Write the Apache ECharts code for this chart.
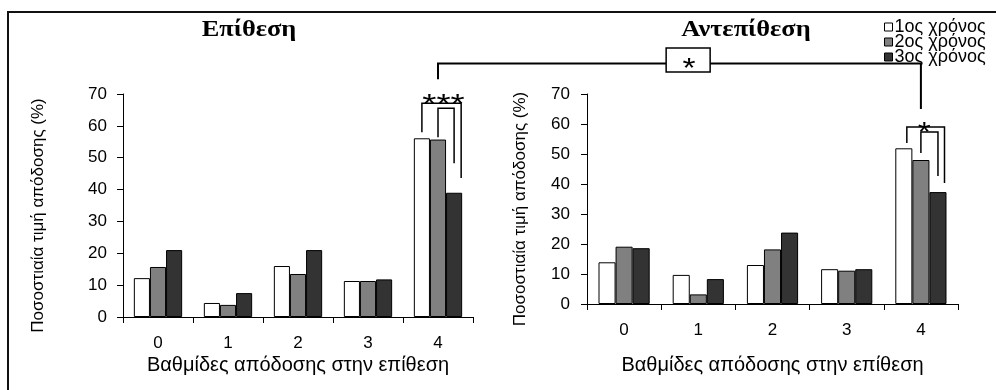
<!DOCTYPE html>
<html><head><meta charset="utf-8">
<script src="https://cdn.jsdelivr.net/npm/echarts@6/dist/echarts.min.js"></script>
<style>html,body{margin:0;padding:0;background:#fff}#c{width:996px;height:390px}</style>
</head><body><div id="c"></div>
<script>
// ---- data ----
const categories = ['0', '1', '2', '3', '4'];
const seriesNames = ['1ος χρόνος', '2ος χρόνος', '3ος χρόνος'];
const attackYear1 = [12.2, 4.4, 16.0, 11.3, 56.1];
const attackYear2 = [15.7, 3.8, 13.5, 11.3, 55.7];
const attackYear3 = [21.0, 7.5, 21.0, 11.8, 39.0];
const counterYear1 = [13.9, 9.7, 13.0, 11.6, 51.9];
const counterYear2 = [19.1, 3.2, 18.2, 11.1, 48.0];
const counterYear3 = [18.6, 8.3, 23.8, 11.6, 37.3];
const yTickValues = [0, 10, 20, 30, 40, 50, 60, 70];
const panelTitles = ['Επίθεση', 'Αντεπίθεση'];
const xAxisTitle = 'Βαθμίδες απόδοσης στην επίθεση';
const yAxisTitle = 'Ποσοστιαία τιμή απόδοσης (%)';
const sigLabels = ['***', '*', '*'];

// ---- style ----
const colors = ['#ffffff', '#808080', '#333333'];
const FONT = '"Liberation Sans", Arial, sans-serif';
const SERIF = '"Liberation Serif", "Times New Roman", serif';
const CAT_GAP = 0.31;

const chart = echarts.init(document.getElementById('c'), null, { renderer: 'canvas' });

function xAx(gi, nameGap, labelMargin) {
  return {
    type: 'category', gridIndex: gi, data: categories, boundaryGap: true,
    axisLine: { lineStyle: { color: '#000', width: 1 } },
    axisTick: { show: true, length: 6, interval: 0, lineStyle: { color: '#000' } },
    axisLabel: { color: '#000', fontSize: 17, fontFamily: FONT, margin: labelMargin, interval: 0 },
    splitLine: { show: false },
    name: xAxisTitle, nameLocation: 'middle', nameGap: nameGap, nameMoveOverlap: false,
    nameTextStyle: { color: '#000', fontSize: 20, fontFamily: FONT }
  };
}
function yAx(gi, nameGap, labelMargin) {
  return {
    type: 'value', gridIndex: gi,
    min: yTickValues[0], max: yTickValues[yTickValues.length - 1],
    interval: yTickValues[1] - yTickValues[0],
    axisLine: { show: true, lineStyle: { color: '#000', width: 1 } },
    axisTick: { show: true, length: 6, lineStyle: { color: '#000' } },
    axisLabel: { color: '#000', fontSize: 17, fontFamily: FONT, margin: labelMargin },
    splitLine: { show: false },
    name: yAxisTitle, nameLocation: 'middle', nameGap: nameGap, nameRotate: 90, nameMoveOverlap: false,
    nameTextStyle: { color: '#000', fontSize: 17, fontFamily: FONT, padding: [0, 20, 0, 0] }
  };
}

const panels = [
  [attackYear1, attackYear2, attackYear3],
  [counterYear1, counterYear2, counterYear3]
];
const series = [];
panels.forEach((p, gi) => p.forEach((d, i) => series.push({
  type: 'bar', name: seriesNames[i], xAxisIndex: gi, yAxisIndex: gi, data: d,
  barGap: '0%', barCategoryGap: (CAT_GAP * 100) + '%',
  itemStyle: { color: colors[i], borderColor: '#000', borderWidth: 1 },
  emphasis: { disabled: true }
})));

chart.setOption({
  animation: false,
  backgroundColor: '#fff',
  grid: [
    { left: 123, top: 94, width: 350, height: 223, outerBoundsMode: 'none' },
    { left: 587, top: 94, width: 371, height: 210, outerBoundsMode: 'none' }
  ],
  xAxis: [xAx(0, 38, 18), xAx(1, 51, 18)],
  yAxis: [yAx(0, 76, 16), yAx(1, 58, 17)],
  legend: {
    data: seriesNames, orient: 'vertical', left: 879, top: 13,
    icon: 'rect', itemWidth: 8, itemHeight: 8, itemGap: -3,
    textStyle: { fontSize: 18, fontFamily: FONT, color: '#000', padding: [0, 0, 0, -3] },
    itemStyle: { borderColor: '#000', borderWidth: 1 }
  },
  series: series
});

// ---- annotations (computed from axes) ----
function P(gi, c, v) { return chart.convertToPixel({ xAxisIndex: gi, yAxisIndex: gi }, [c, v]); }
function X(gi, c) { return P(gi, c, 0)[0]; }
function Y(gi, v) { return P(gi, 0, v)[1]; }
function bars(gi) {
  const cx = X(gi, 4);
  const catW = X(gi, 1) - X(gi, 0);
  const bw = catW * (1 - CAT_GAP) / 3;
  return { cx: cx, bw: bw, b0: cx - bw, b1: cx, b2: cx + bw, re: cx + 1.5 * bw };
}
const L = bars(0), R = bars(1);
const line = (pts, w) => ({ type: 'polyline', shape: { points: pts }, style: { stroke: '#000', lineWidth: w || 1.5, fill: null }, z: 10 });
const star = (txt, x, y, size, sx) => ({
  type: 'text', x: x, y: y, scaleX: sx || 1, z: 12,
  style: { text: txt, x: 0, y: 0, align: 'center', verticalAlign: 'middle', fill: '#000', font: size + 'px ' + FONT }
});

const topY = Y(0, 79.6);
const boxCx = L.cx + 0.518 * (R.cx - L.cx);

const graphic = [
  { type: 'rect', shape: { x: 8, y: 12, width: 1000, height: 400 }, style: { fill: null, stroke: '#111', lineWidth: 2 }, z: 1 },
  { type: 'text', x: 249, y: 30, scaleX: 1.1, z: 5,
    style: { text: panelTitles[0], x: 0, y: 0, align: 'center', verticalAlign: 'middle', fill: '#000', font: 'bold 24px ' + SERIF } },
  { type: 'text', x: 746, y: 30, scaleX: 1.1, z: 5,
    style: { text: panelTitles[1], x: 0, y: 0, align: 'center', verticalAlign: 'middle', fill: '#000', font: 'bold 24px ' + SERIF } },
  // left panel brackets
  line([[L.b0, Y(0, 58)], [L.b0, Y(0, 67.1)], [L.re - 1, Y(0, 67.1)], [L.re - 1, Y(0, 43.6)]]),
  line([[L.b1, Y(0, 56.4)], [L.b1, Y(0, 65.5)], [L.b2, Y(0, 65.5)], [L.b2, Y(0, 48.3)]]),
  star(sigLabels[0], L.cx + 5.5, Y(0, 68.8) + 7, 28, 1.3),
  // right panel brackets
  line([[R.b0 + 3, Y(1, 53.7)], [R.b0 + 3, Y(1, 59)], [R.re - 2, Y(1, 59)], [R.re - 2, Y(1, 40.3)]]),
  line([[R.b1, Y(1, 50.3)], [R.b1, Y(1, 57.3)], [R.b2, Y(1, 57.3)], [R.b2, Y(1, 42.7)]]),
  star(sigLabels[1], R.cx + 3.5, Y(1, 59.2) + 7, 28, 1.2),
  // cross-panel bracket
  line([[L.cx, Y(0, 74.6)], [L.cx, topY], [R.cx, topY], [R.cx, Y(1, 65)]], 2),
  { type: 'rect', shape: { x: boxCx - 22, y: topY - 15.3, width: 44, height: 24 }, style: { fill: '#fff', stroke: '#000', lineWidth: 1.5 }, z: 11 },
  star(sigLabels[2], boxCx + 1, topY - 1.3 + 7, 28, 1.2)
];
chart.setOption({ graphic: graphic });
</script>
</body></html>
